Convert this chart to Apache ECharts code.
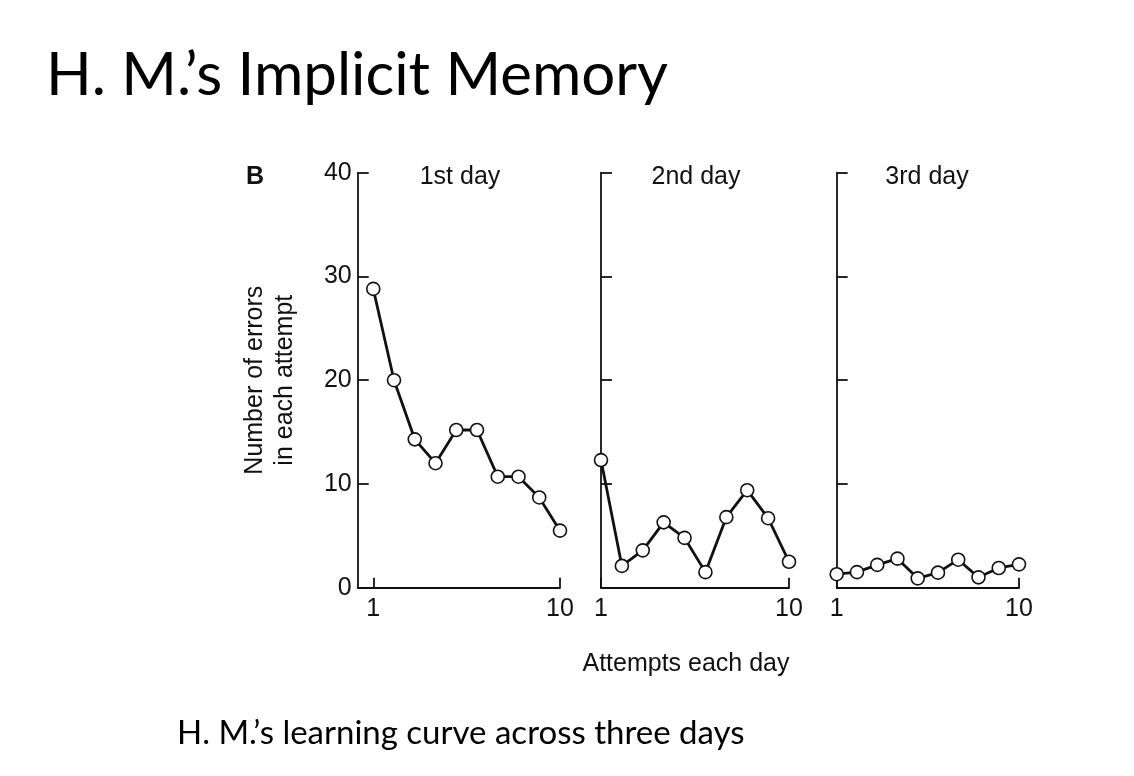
<!DOCTYPE html>
<html>
<head>
<meta charset="utf-8">
<script src="https://cdn.jsdelivr.net/npm/echarts@6/dist/echarts.min.js"></script>
<style>
  html, body { margin: 0; padding: 0; background: #fff; }
  #main { width: 1134px; height: 776px; }
</style>
</head>
<body>
<div id="main"></div>
<script>
// attempts 1..10 for each day
var attempts = [1, 2, 3, 4, 5, 6, 7, 8, 9, 10];
var day1 = [28.8, 20, 14.3, 12, 15.2, 15.2, 10.7, 10.7, 8.7, 5.5];
var day2 = [12.3, 2.1, 3.6, 6.3, 4.8, 1.5, 6.8, 9.4, 6.7, 2.5];
var day3 = [1.3, 1.5, 2.2, 2.8, 0.9, 1.45, 2.7, 1.0, 1.9, 2.25];
var dayNames = ['1st day', '2nd day', '3rd day'];
var yTicks = [0, 10, 20, 30, 40];
var xTicks = [1, 10];

var font = '"Liberation Sans", Arial, Helvetica, sans-serif';
var slideFont = 'Lato, "Open Sans", sans-serif';

function pairs(vals) {
    var out = [];
    for (var i = 0; i < vals.length; i++) {
        out.push([attempts[i], vals[i]]);
    }
    return out;
}

var lineCol = '#111';
var tickStyle = { show: true, inside: true, length: 11, lineStyle: { color: lineCol, width: 1.8 } };

// grid placement of the three panels
var grids = [
    { left: 357.7, top: 172.7, width: 202.3, height: 415 },
    { left: 601, top: 172.7, width: 188, height: 415 },
    { left: 836.7, top: 172.7, width: 182.3, height: 415 }
];
var xMins = [0.25, 1, 1];
var titleX = [460, 696, 927];

var xAxes = [], yAxes = [], series = [];
var allDays = [day1, day2, day3];
for (var k = 0; k < 3; k++) {
    xAxes.push({
        type: 'value', gridIndex: k, min: xMins[k], max: 10,
        axisLine: { lineStyle: { color: lineCol, width: 1.8 } },
        axisTick: { show: true, inside: true, length: 10, customValues: xTicks, lineStyle: { color: lineCol, width: 1.8 } },
        axisLabel: { customValues: xTicks, margin: 9, color: lineCol, fontSize: 25, fontFamily: font },
        splitLine: { show: false }
    });
    yAxes.push({
        type: 'value', gridIndex: k, min: yTicks[0], max: yTicks[yTicks.length - 1], interval: 10,
        axisLine: { show: true, lineStyle: { color: lineCol, width: 1.8 } },
        axisTick: tickStyle,
        axisLabel: { show: k === 0, margin: 6, color: lineCol, fontSize: 25, fontFamily: font },
        splitLine: { show: false },
        name: k === 0 ? 'Number of errors\nin each attempt' : '',
        nameLocation: 'middle',
        nameGap: 58,
        nameRotate: 90,
        nameTextStyle: { color: lineCol, fontSize: 25, fontFamily: font, lineHeight: 30 }
    });
    series.push({
        type: 'line', xAxisIndex: k, yAxisIndex: k,
        data: pairs(allDays[k]),
        symbol: 'circle', symbolSize: 13,
        itemStyle: { color: '#fff', borderColor: lineCol, borderWidth: 1.6 },
        lineStyle: { color: lineCol, width: 2.8 },
        z: 3
    });
}

var titles = [
    { text: 'H. M.\u2019s Implicit Memory', left: 46, top: 46, padding: 0,
      textStyle: { fontFamily: slideFont, fontWeight: 'normal', fontSize: 60, color: '#000' } },
    { text: 'B', left: 255, top: 165, padding: 0, textAlign: 'center',
      textStyle: { fontFamily: font, fontWeight: 'bold', fontSize: 25, color: lineCol } },
    { text: 'Attempts each day', left: 686, top: 652, padding: 0, textAlign: 'center',
      textStyle: { fontFamily: font, fontWeight: 'normal', fontSize: 25, color: lineCol } },
    { text: 'H. M.\u2019s learning curve across three days', left: 177, top: 717, padding: 0,
      textStyle: { fontFamily: slideFont, fontWeight: 'normal', fontSize: 33, color: '#000' } }
];
for (var j = 0; j < 3; j++) {
    titles.push({ text: dayNames[j], left: titleX[j], top: 165, padding: 0, textAlign: 'center',
        textStyle: { fontFamily: font, fontWeight: 'normal', fontSize: 25, color: lineCol } });
}

var chart = echarts.init(document.getElementById('main'));
chart.setOption({
    backgroundColor: '#fff',
    animation: false,
    title: titles,
    grid: grids,
    xAxis: xAxes,
    yAxis: yAxes,
    series: series
});
</script>
</body>
</html>
